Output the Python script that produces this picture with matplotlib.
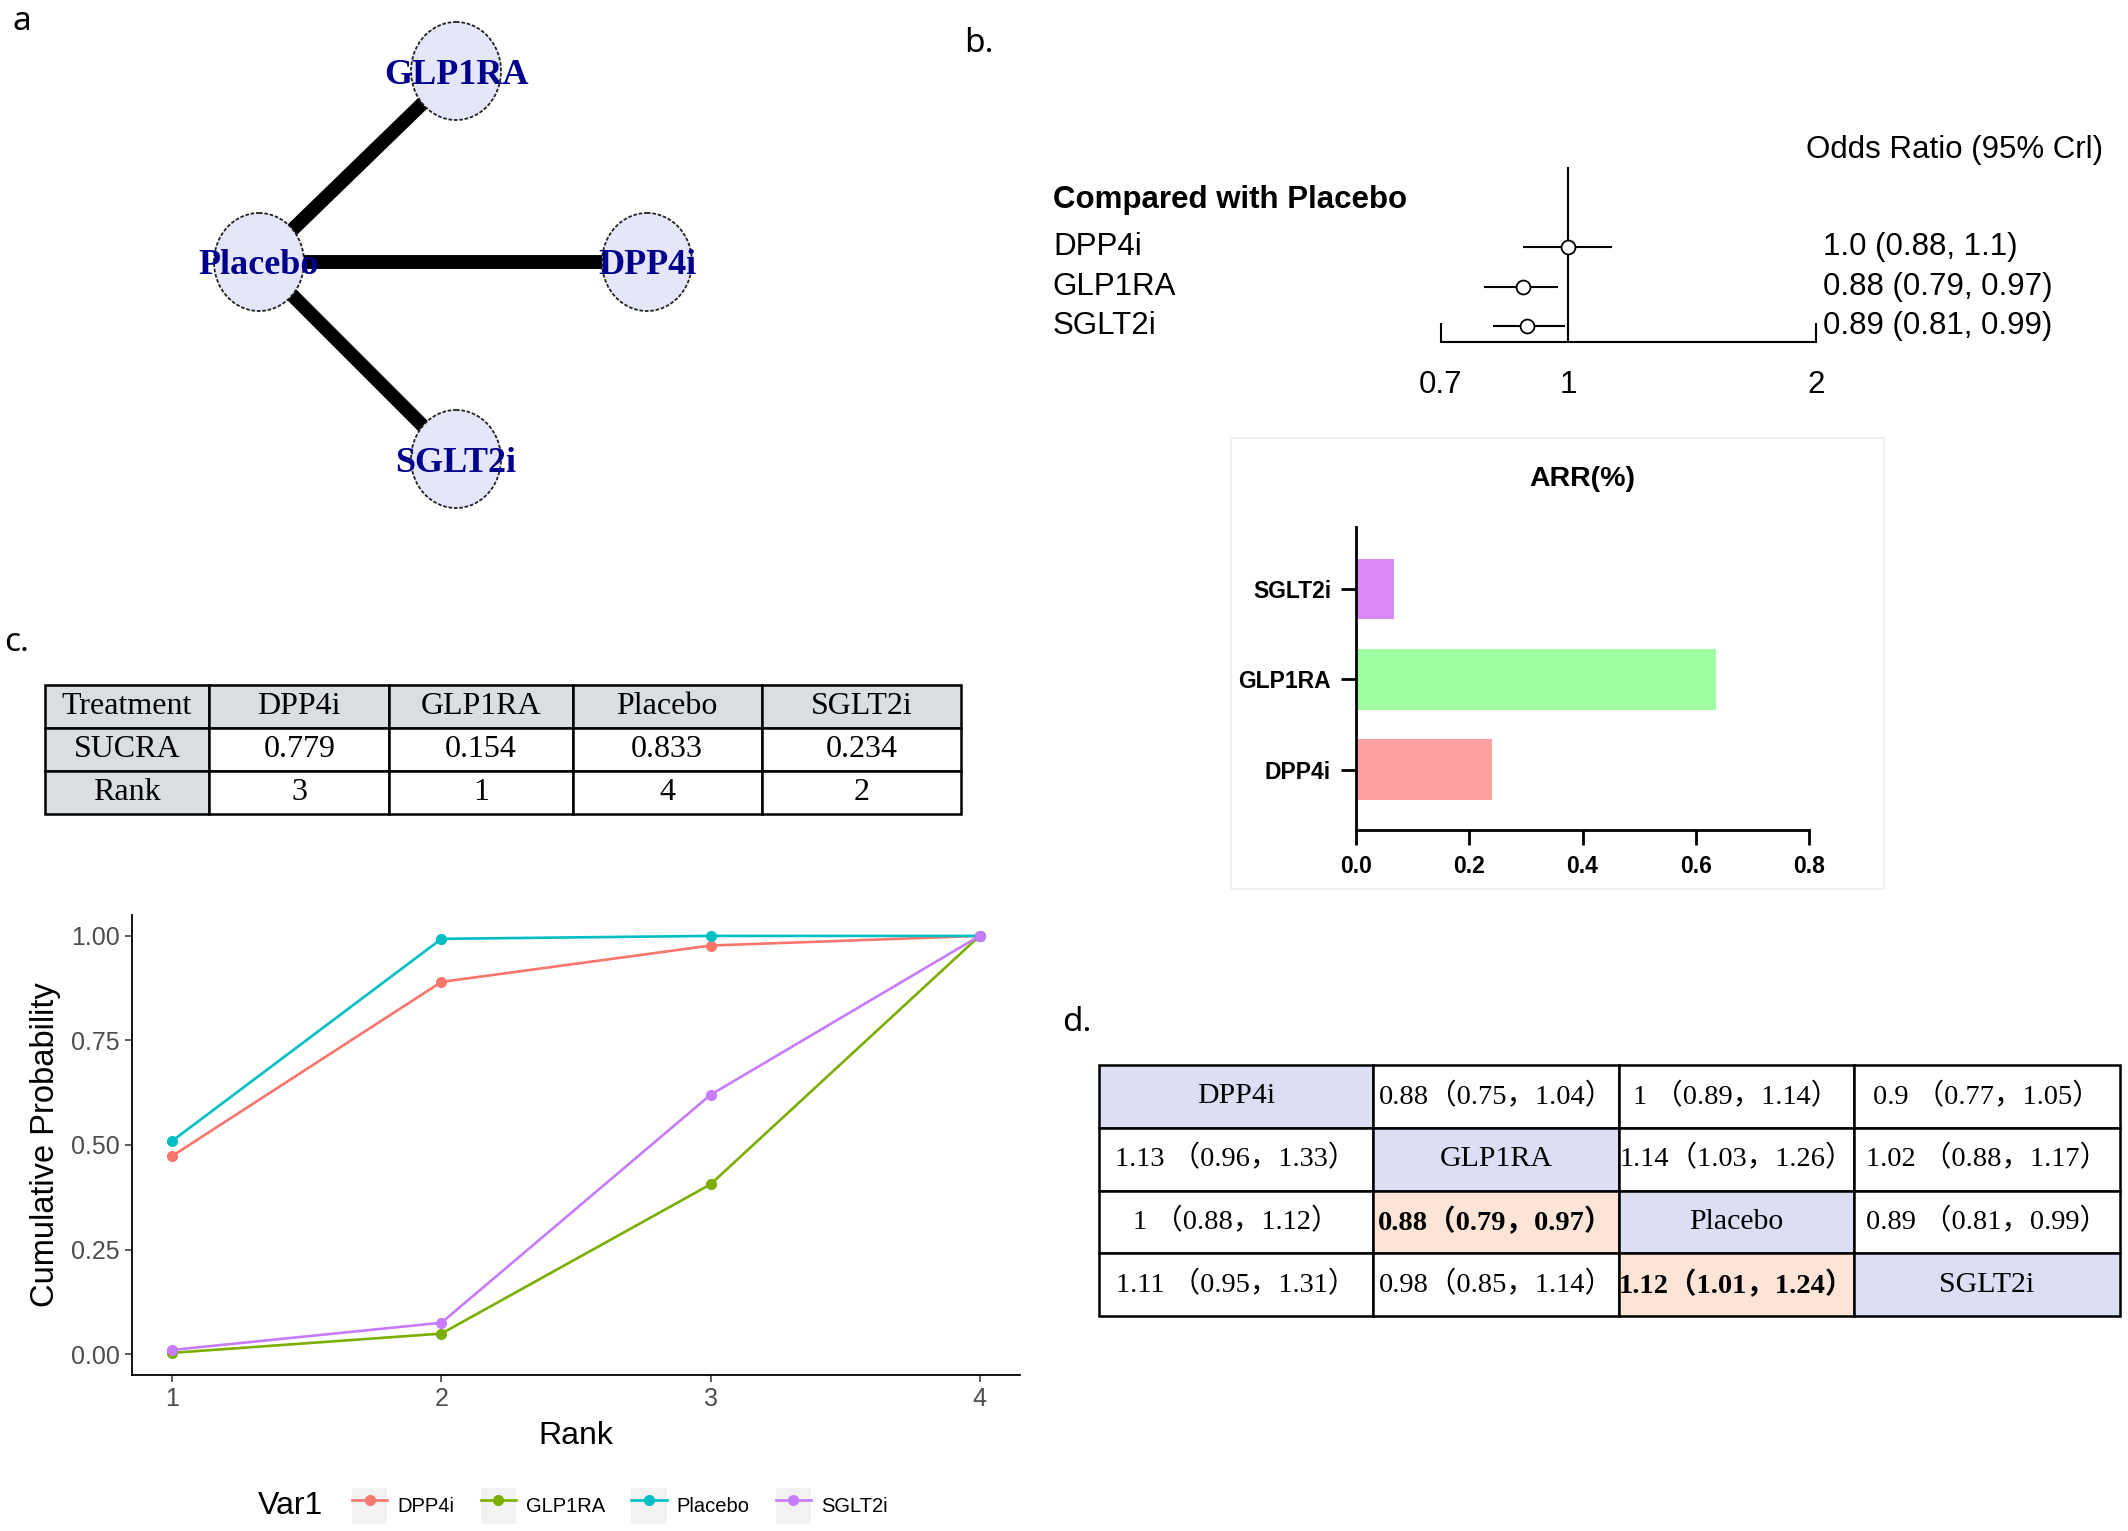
import matplotlib
matplotlib.use("Agg")
import matplotlib.pyplot as plt
from matplotlib.patches import Ellipse, Patch, Rectangle
from matplotlib.lines import Line2D
from matplotlib.legend_handler import HandlerTuple
from matplotlib.ticker import NullLocator

W, H = 2128, 1531

# --- panel a: network ---
nodes = ['GLP1RA', 'Placebo', 'DPP4i', 'SGLT2i']
node_x = [456, 259, 647, 456]
node_y = [71, 262, 262, 459]
edges = [('Placebo', 'GLP1RA'), ('Placebo', 'DPP4i'), ('Placebo', 'SGLT2i')]
edge_width = [10, 10, 10]

# --- panel b: forest plot (OR vs placebo) ---
forest_names = ['DPP4i', 'GLP1RA', 'SGLT2i']
or_mean = [1.0, 0.88, 0.89]
or_low = [0.88, 0.79, 0.81]
or_high = [1.13, 0.97, 0.99]
or_text = ['1.0 (0.88, 1.1)', '0.88 (0.79, 0.97)', '0.89 (0.81, 0.99)']

# --- panel b: ARR bars ---
arr_names = ['DPP4i', 'GLP1RA', 'SGLT2i']
arr_values = [0.24, 0.635, 0.067]
arr_colors = ['#FFA0A0', '#A0FFA0', '#DA8AF5']

# --- panel c: SUCRA table + cumulative ranking ---
sucra_header = ['Treatment', 'DPP4i', 'GLP1RA', 'Placebo', 'SGLT2i']
sucra_values = ['0.779', '0.154', '0.833', '0.234']
sucra_rank = ['3', '1', '4', '2']

ranks = [1, 2, 3, 4]
treatments = ['DPP4i', 'GLP1RA', 'Placebo', 'SGLT2i']
cum_dpp4i = [0.474, 0.89, 0.977, 1.0]
cum_glp1ra = [0.003, 0.049, 0.406, 1.0]
cum_placebo = [0.51, 0.993, 1.0, 1.0]
cum_sglt2i = [0.01, 0.075, 0.62, 1.0]
hue_colors = ['#F8766D', '#7CAE00', '#00BFC4', '#C77CFF']

# --- panel d: league table ---
league_row1 = ['DPP4i', '0.88（0.75，1.04）', '1 （0.89，1.14）', '0.9 （0.77，1.05）']
league_row2 = ['1.13 （0.96，1.33）', 'GLP1RA', '1.14（1.03，1.26）', '1.02 （0.88，1.17）']
league_row3 = ['1 （0.88，1.12）', '0.88（0.79，0.97）', 'Placebo', '0.89 （0.81，0.99）']
league_row4 = ['1.11 （0.95，1.31）', '0.98（0.85，1.14）', '1.12（1.01，1.24）', 'SGLT2i']
league_highlight = [(2, 1), (3, 2)]

SERIF = ['Liberation Serif', 'Noto Sans CJK SC']
SANS = 'Liberation Sans'

fig = plt.figure(figsize=(W / 100, H / 100), dpi=100)


def px_axes(x0, y0, x1, y1):
    # axes placed by pixel box (top-left origin)
    return fig.add_axes([x0 / W, 1 - y1 / H, (x1 - x0) / W, (y1 - y0) / H])


def fig_text(x, y, s, **kw):
    fig.text(x / W, 1 - y / H, s, **kw)


# panel labels
fig_text(12, 30, 'a', fontsize=24, family='Noto Sans', va='baseline')
fig_text(964, 52, 'b.', fontsize=24, family='Noto Sans', va='baseline')
fig_text(4, 651, 'c.', fontsize=24, family='Noto Sans', va='baseline')
fig_text(1062, 1031, 'd.', fontsize=24, family='Noto Sans', va='baseline')

# ---------------- a: network ----------------
ax = px_axes(0, 0, 900, 560)
ax.set_xlim(0, 900)
ax.set_ylim(560, 0)
ax.axis('off')
pos = {n: (x, y) for n, x, y in zip(nodes, node_x, node_y)}
for (a, b), lw in zip(edges, edge_width):
    ax.plot([pos[a][0], pos[b][0]], [pos[a][1], pos[b][1]], color='black',
            lw=lw, solid_capstyle='butt', zorder=1)
for n in nodes:
    ax.add_patch(Ellipse(pos[n], 90, 98, facecolor='#E6E6FA', edgecolor='#222222',
                         lw=1.3, ls=(0, (2, 1)), zorder=2))
    ax.text(pos[n][0], pos[n][1] + 4, n, ha='center', va='center', fontsize=26,
            family='Liberation Serif', fontweight='bold', color='#00008B', zorder=3)

# ---------------- b: forest ----------------
ax = px_axes(1441, 167, 1816, 342)
ax.set_xscale('log')
ax.set_xlim(0.7, 2)
ax.set_ylim(2.4, -2.03)
rows = list(range(len(forest_names)))
ax.axvline(1, color='black', lw=1.5)
ax.hlines(rows, or_low, or_high, color='black', lw=1.5)
ax.plot(or_mean, rows, 'o', mfc='white', mec='black', ms=10, mew=1.3)
for s in ['top', 'right', 'left']:
    ax.spines[s].set_visible(False)
ax.spines['bottom'].set_bounds(0.7, 2)
ax.spines['bottom'].set_linewidth(1.5)
ax.set_xticks([0.7, 1, 2])
ax.set_xticklabels(['0.7', '1', '2'])
ax.xaxis.set_minor_locator(NullLocator())
ax.set_yticks([])
ax.tick_params(axis='x', direction='in', length=14, width=1.5, labelsize=22.5, pad=20)
for lab in ax.get_xticklabels():
    lab.set_family(SANS)
tr = ax.get_yaxis_transform()
ax.text(-1.035, -1.2, 'Compared with Placebo', transform=tr, fontsize=22.5,
        fontweight='bold', family=SANS, va='center', ha='left')
for r, name, txt in zip(rows, forest_names, or_text):
    ax.text(-1.035, r, name, transform=tr, fontsize=22.5, family=SANS, va='center', ha='left')
    ax.text(1.019, r, txt, transform=tr, fontsize=22.5, family=SANS, va='center', ha='left')
ax.text(1.765, -2.45, 'Odds Ratio (95% Crl)', transform=tr, fontsize=22.5, family=SANS,
        va='center', ha='right')

# ---------------- b: ARR bars ----------------
# faint frame of the pasted-in bar chart
fig.patches.append(Rectangle((1231 / W, 1 - 889 / H), 653 / W, 451 / H,
                             transform=fig.transFigure, facecolor='white',
                             edgecolor='#EEEEEE', lw=1.2, zorder=-5))
ax = px_axes(1356, 527, 1809, 830)
ax.set_zorder(2)
ax.set_facecolor('none')
ax.barh(range(len(arr_names)), arr_values, height=0.67, color=arr_colors)
ax.set_xlim(0, 0.8)
ax.set_ylim(-0.67, 2.69)
ax.set_yticks(range(len(arr_names)))
ax.set_yticklabels(arr_names)
ax.set_xticks([0, 0.2, 0.4, 0.6, 0.8])
ax.set_xticklabels(['0.0', '0.2', '0.4', '0.6', '0.8'])
for s in ['top', 'right']:
    ax.spines[s].set_visible(False)
for s in ['left', 'bottom']:
    ax.spines[s].set_linewidth(2)
ax.tick_params(length=11, width=2, labelsize=16.5, pad=7)
for lab in ax.get_xticklabels() + ax.get_yticklabels():
    lab.set_fontweight('bold')
    lab.set_family(SANS)
ax.text(0.5, 1.158, 'ARR(%)', transform=ax.transAxes, ha='center', va='center',
        fontsize=20.5, fontweight='bold', family=SANS)

# ---------------- c: SUCRA table ----------------
ax = px_axes(45, 685, 961, 814)
ax.axis('off')
cells = [sucra_header, ['SUCRA'] + sucra_values, ['Rank'] + sucra_rank]
tbl = ax.table(cellText=cells, colWidths=[164, 180, 183, 189, 199],
               cellLoc='center', bbox=[0, 0, 1, 1])
tbl.auto_set_font_size(False)
for (r, c), cell in tbl.get_celld().items():
    cell.set_linewidth(1.8)
    cell.set_facecolor('#DADDE2' if (r == 0 or c == 0) else 'white')
    cell.get_text().set_fontsize(23)
    cell.get_text().set_family('Liberation Serif')

# ---------------- c: cumulative ranking ----------------
ax = px_axes(132, 915, 1020, 1375)
series = [cum_dpp4i, cum_glp1ra, cum_placebo, cum_sglt2i]
handles = []
for name, vals, col in zip(treatments, series, hue_colors):
    ax.plot(ranks, vals, color=col, lw=1.9, marker='o', ms=7, label=name)
    handles.append((Patch(facecolor='#F2F2F2', edgecolor='none'),
                    Line2D([], [], color=col, lw=1.9, marker='o', ms=7)))
ax.set_xlim(0.85, 4.15)
ax.set_ylim(-0.05, 1.05)
ax.set_xticks(ranks)
ax.set_yticks([0, 0.25, 0.5, 0.75, 1.0])
ax.set_yticklabels(['0.00', '0.25', '0.50', '0.75', '1.00'])
for s in ['top', 'right']:
    ax.spines[s].set_visible(False)
for s in ['left', 'bottom']:
    ax.spines[s].set_linewidth(1.3)
ax.tick_params(length=5, width=1.1, color='#333333', labelcolor='#4D4D4D',
               labelsize=18, pad=4)
ax.set_xlabel('Rank', fontsize=23, labelpad=7, family=SANS)
ax.set_ylabel('Cumulative Probability', fontsize=23.5, labelpad=7, family=SANS)
for lab in ax.get_xticklabels() + ax.get_yticklabels():
    lab.set_family(SANS)

fig_text(258, 1506, 'Var1', fontsize=23, family=SANS, va='center', ha='left')
fig.legend(handles, treatments, loc='center', bbox_to_anchor=(620 / W, 1 - 1506 / H),
           ncol=4, frameon=False, prop={'family': SANS, 'size': 14.5},
           handlelength=1.75, handleheight=2.3, handletextpad=0.5,
           columnspacing=1.3, handler_map={tuple: HandlerTuple(ndivide=1, pad=0)})

# ---------------- d: league table ----------------
ax = px_axes(1099, 1065, 2120, 1316)
ax.axis('off')
league = [league_row1, league_row2, league_row3, league_row4]
tbl = ax.table(cellText=league, colWidths=[274, 246, 235, 266],
               cellLoc='center', bbox=[0, 0, 1, 1])
tbl.auto_set_font_size(False)
for (r, c), cell in tbl.get_celld().items():
    cell.set_linewidth(1.8)
    txt = cell.get_text()
    txt.set_family(SERIF)
    if r == c:
        cell.set_facecolor('#DCDFF4')
        txt.set_fontsize(21.5)
    elif (r, c) in league_highlight:
        cell.set_facecolor('#FCE4D6')
        txt.set_fontweight('bold')
        txt.set_fontsize(20.5)
    else:
        cell.set_facecolor('white')
        txt.set_fontsize(20.5)

fig.savefig('out.png', dpi=100)
